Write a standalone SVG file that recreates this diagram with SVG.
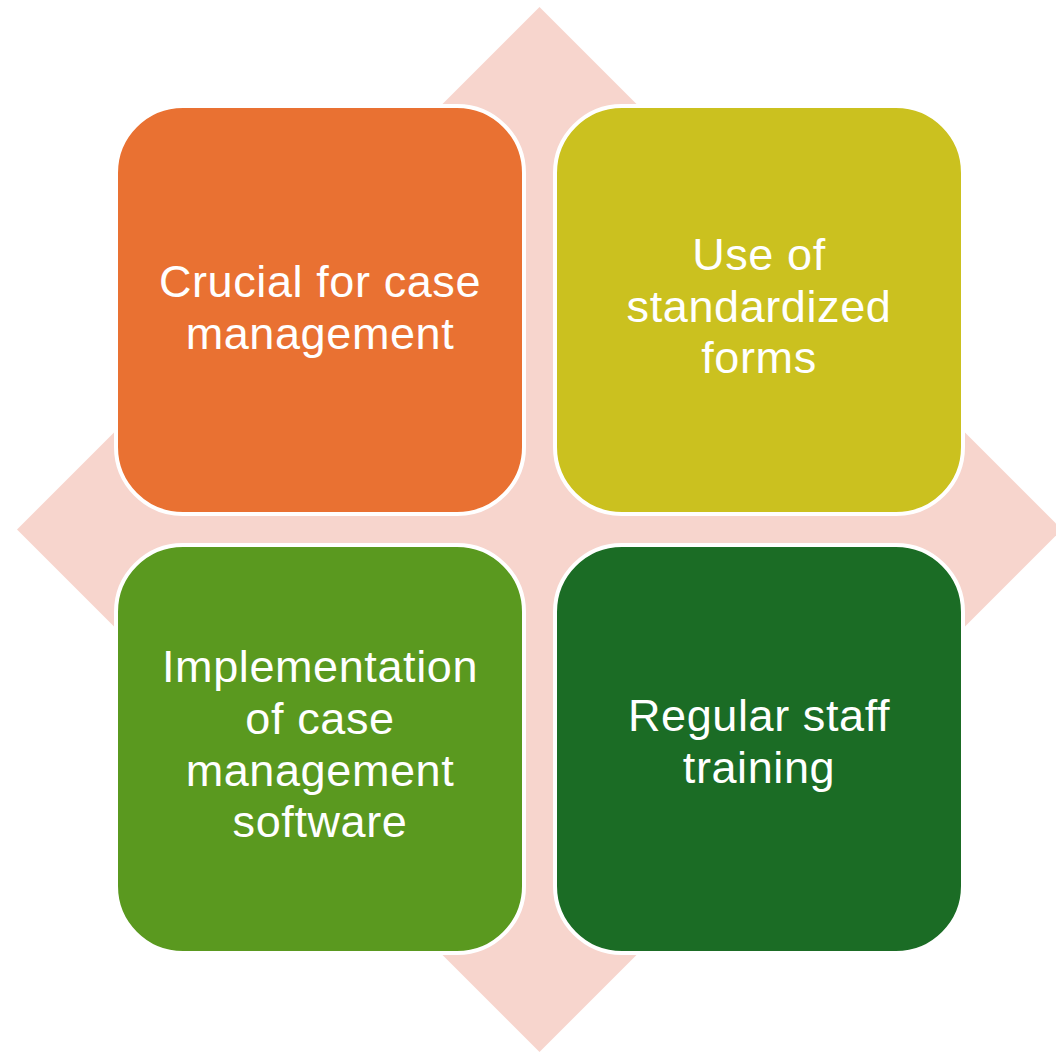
<svg xmlns="http://www.w3.org/2000/svg" width="1056" height="1054" viewBox="0 0 1056 1054">
<style>
.box{stroke:#FFFFFF;stroke-width:4}
.t{font-family:"Liberation Sans","Noto Sans",Arial,sans-serif;font-size:45px;letter-spacing:0.6px;fill:#FFFFFF;text-anchor:middle}
</style>
<rect width="1056" height="1054" fill="#FFFFFF"/>
<g id="background">
<polygon points="539.5,7 1062,529.5 539.5,1052 17,529.5" fill="#F7D5CD"/>
</g>
<g id="connectors"></g>
<g id="node-crucial">
<rect class="box" x="116" y="106" width="408" height="408" rx="67" fill="#E97132"/>
<text class="t" x="320" y="297">Crucial for case</text>
<text class="t" x="320" y="349">management</text>
</g>
<g id="node-forms">
<rect class="box" x="555" y="106" width="408" height="408" rx="67" fill="#CBC11F"/>
<text class="t" x="759" y="270">Use of</text>
<text class="t" x="759" y="322">standardized</text>
<text class="t" x="759" y="373">forms</text>
</g>
<g id="node-software">
<rect class="box" x="116" y="545" width="408" height="408" rx="67" fill="#5A991F"/>
<text class="t" x="320" y="682">Implementation</text>
<text class="t" x="320" y="734">of case</text>
<text class="t" x="320" y="786">management</text>
<text class="t" x="320" y="837">software</text>
</g>
<g id="node-training">
<rect class="box" x="555" y="545" width="408" height="408" rx="67" fill="#1B6C25"/>
<text class="t" x="759" y="731">Regular staff</text>
<text class="t" x="759" y="783">training</text>
</g>
</svg>
